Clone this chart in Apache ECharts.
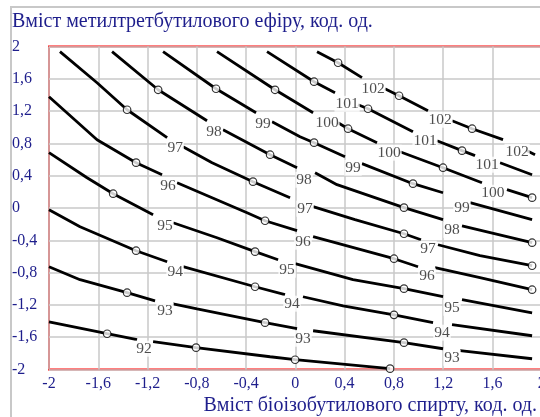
<!DOCTYPE html>
<html>
<head>
<meta charset="utf-8">
<script src="https://cdn.jsdelivr.net/npm/echarts@6/dist/echarts.min.js"></script>
<style>
html,body{margin:0;padding:0;background:#fff;}
#chart{width:540px;height:417px;}
</style>
</head>
<body>
<div id="chart"></div>
<script>
// ---- Data (coded units) ----
const yTitle = 'Вміст метилтретбутилового ефіру, код. од.';
const xTitle = 'Вміст біоізобутилового спирту, код. од.';
const xTicks = [-2, -1.6, -1.2, -0.8, -0.4, 0, 0.4, 0.8, 1.2, 1.6, 2];
const yTicks = [-2, -1.6, -1.2, -0.8, -0.4, 0, 0.4, 0.8, 1.2, 1.6, 2];

// contour polylines; null = break where an inline label sits
const c92 = [[-2.000,-1.409],[-1.528,-1.557],[-1.285,-1.631],null,[-1.155,-1.656],[-0.806,-1.730],[-0.205,-1.842],[-0.002,-1.879],[0.769,-1.990]];
const c93 = [[-2.000,-0.727],[-1.748,-0.888],[-1.366,-1.049],[-1.139,-1.149],null,[-0.993,-1.186],[-0.798,-1.248],[-0.246,-1.420],[0.014,-1.495],null,[0.144,-1.520],[0.882,-1.668],[1.199,-1.743],null,[1.337,-1.767],[1.922,-1.867]];
const c94 = [[-2.000,-0.021],[-1.748,-0.232],[-1.293,-0.529],[-1.041,-0.665],null,[-0.912,-0.727],[-0.327,-0.975],[-0.084,-1.074],null,[0.062,-1.099],[0.387,-1.211],[0.801,-1.323],[1.118,-1.420],null,[1.272,-1.445],[1.922,-1.582]];
const c95 = [[-2.000,0.685],[-1.691,0.375],[-1.479,0.177],[-1.155,-0.083],null,[-0.993,-0.183],[-0.636,-0.368],[-0.327,-0.541],[-0.140,-0.641],null,[-0.002,-0.690],[0.468,-0.888],[0.882,-0.999],[1.199,-1.099],null,[1.353,-1.136],[1.922,-1.298]];
const c96 = [[-2.000,1.378],[-1.610,0.846],[-1.293,0.561],[-1.082,0.412],null,[-0.960,0.313],[-0.676,0.128],[-0.392,-0.059],[-0.246,-0.158],[0.014,-0.281],null,[0.144,-0.355],[0.801,-0.628],[0.996,-0.727],null,[1.134,-0.739],[1.499,-0.863],[1.922,-1.012]];
const c97 = [[-1.911,1.936],[-1.610,1.551],[-1.366,1.217],[-1.041,0.871],null,[-0.912,0.759],[-0.676,0.561],[-0.344,0.326],[-0.043,0.128],null,[0.144,0.016],[0.484,-0.145],[0.882,-0.319],[1.020,-0.393],null,[1.158,-0.455],[1.499,-0.591],[1.922,-0.715]];
const c98 = [[-1.488,1.936],[-1.114,1.464],[-0.717,1.081],null,[-0.587,0.970],[-0.205,0.660],[0.014,0.499],null,[0.160,0.437],[0.338,0.289],[0.882,0.004],[1.199,-0.145],null,[1.353,-0.220],[1.922,-0.430]];
const c99 = [[-1.074,1.936],[-0.644,1.477],[-0.319,1.180],null,[-0.189,1.069],[0.038,0.883],[0.152,0.809],[0.403,0.635],null,[0.541,0.549],[0.955,0.301],[1.199,0.189],null,[1.418,0.066],[1.922,-0.145]];
const c100 = [[-0.636,1.936],[-0.165,1.464],[0.144,1.180],null,[0.347,1.056],[0.428,0.982],[0.663,0.809],null,[0.850,0.697],[1.199,0.499],[1.515,0.313],null,[1.718,0.227],[1.922,0.128]];
const c101 = [[-0.230,1.936],[0.152,1.564],[0.322,1.427],null,[0.509,1.279],[0.590,1.229],[0.955,0.945],null,[1.150,0.833],[1.353,0.710],[1.459,0.648],null,[1.662,0.561],[1.922,0.412]];
const c102 = [[0.176,1.936],[0.347,1.799],[0.541,1.614],null,[0.727,1.477],[0.842,1.390],[1.077,1.205],null,[1.272,1.081],[1.435,0.982],[1.686,0.846],null,[1.881,0.710],[1.946,0.660]];

const contours = [c92, c93, c94, c95, c96, c97, c98, c99, c100, c101, c102];

// experimental points (open circles)
const markers = [
  [-1.528,-1.557],[-0.806,-1.730],[-0.002,-1.879],[0.769,-1.990],
  [-1.366,-1.049],[-0.246,-1.420],[0.882,-1.668],
  [-1.293,-0.529],[-0.327,-0.975],[0.801,-1.323],
  [-1.479,0.177],[-0.327,-0.541],[0.882,-0.999],
  [-1.293,0.561],[-0.246,-0.158],[0.801,-0.628],[1.922,-1.012],
  [-1.366,1.217],[-0.344,0.326],[0.882,-0.319],[1.922,-0.715],
  [-1.114,1.464],[-0.205,0.660],[0.882,0.004],[1.922,-0.430],
  [-0.644,1.477],[0.152,0.809],[0.955,0.301],
  [-0.165,1.464],[0.428,0.982],[1.199,0.499],[1.922,0.128],
  [0.152,1.564],[0.590,1.229],[1.353,0.710],
  [0.347,1.799],[0.842,1.390],[1.435,0.982]
];

// inline contour labels [x, y, level]
const levelLabels = [
  [-1.228,-1.742,92],
  [-1.058,-1.272,93],[0.062,-1.619,93],[1.272,-1.854,93],
  [-0.976,-0.789,94],[-0.027,-1.185,94],[1.191,-1.544,94],
  [-1.058,-0.219,95],[-0.067,-0.764,95],[1.272,-1.235,95],
  [-1.034,0.276,96],[0.062,-0.417,96],[1.069,-0.838,96],
  [-0.976,0.746,97],[0.079,-0.009,97],[1.077,-0.505,97],
  [-0.660,0.945,98],[0.071,0.350,98],[1.272,-0.270,98],
  [-0.262,1.044,99],[0.468,0.499,99],[1.353,0.004,99],
  [0.257,1.056,100],[0.761,0.685,100],[1.604,0.189,100],
  [0.420,1.290,101],[1.053,0.833,101],[1.556,0.536,101],
  [0.631,1.476,102],[1.175,1.093,102],[1.800,0.697,102]
];

// ---- Chart ----
const SERIF = "'Liberation Serif','Times New Roman',serif";
const NAVY = '#1e1e8c';
const fmt = v => String(parseFloat(Number(v).toFixed(1))).replace('.', ',');

const series = contours.map(c => ({
  type: 'line',
  data: c.map(p => p === null ? ['-', '-'] : p),
  symbol: 'none',
  connectNulls: false,
  lineStyle: { color: '#000', width: 2.8 },
  silent: true,
  z: 3
}));
series.push({
  type: 'scatter',
  data: markers,
  symbol: 'circle',
  symbolSize: 7.5,
  itemStyle: { color: '#fff', borderColor: '#000', borderWidth: 1.2 },
  silent: true,
  z: 5
});
series.push({
  type: 'scatter',
  data: levelLabels,
  symbol: 'circle',
  symbolSize: 0,
  label: {
    show: true, position: 'inside',
    formatter: p => String(p.value[2]),
    fontFamily: SERIF, fontSize: 15.5, color: '#222',
    backgroundColor: '#fff', padding: [0, 1]
  },
  silent: true,
  z: 4
});

const chart = echarts.init(document.getElementById('chart'), null, { renderer: 'canvas' });
chart.setOption({
  animation: false,
  backgroundColor: '#fff',
  title: [
    { text: yTitle, left: 12, top: 12, padding: 0,
      textStyle: { fontFamily: SERIF, fontSize: 20, fontWeight: 'normal', color: NAVY } },
    { text: xTitle, right: 3, top: 396, padding: 0,
      textStyle: { fontFamily: SERIF, fontSize: 20, fontWeight: 'normal', color: NAVY } }
  ],
  graphic: [
    { type: 'line', shape: { x1: 11, y1: 7, x2: 11, y2: 417 }, style: { stroke: '#c8c8c8', lineWidth: 2 }, silent: true },
    { type: 'line', shape: { x1: 10, y1: 7, x2: 540, y2: 7 }, style: { stroke: '#c8c8c8', lineWidth: 2 }, silent: true }
  ],
  grid: { left: 49, top: 46.5, right: -1.7, bottom: 47.5, show: true,
          outerBoundsMode: 'none', containLabel: false,
          borderColor: '#ff0000', borderWidth: 2, backgroundColor: 'transparent' },
  xAxis: {
    type: 'value', min: xTicks[0], max: xTicks[xTicks.length - 1], interval: 0.4,
    axisLine: { show: false }, axisTick: { show: false },
    splitLine: { show: true, lineStyle: { color: '#c8c8c8', width: 1.5 } },
    axisLabel: { formatter: fmt, fontFamily: SERIF, fontSize: 16, color: NAVY, margin: 6 }
  },
  yAxis: {
    type: 'value', min: yTicks[0], max: yTicks[yTicks.length - 1], interval: 0.4,
    axisLine: { show: false }, axisTick: { show: false },
    splitLine: { show: true, lineStyle: { color: '#c8c8c8', width: 1.5 } },
    axisLabel: { formatter: fmt, fontFamily: SERIF, fontSize: 16, color: NAVY, margin: 37, align: 'left' }
  },
  series: series
});
</script>
</body>
</html>
